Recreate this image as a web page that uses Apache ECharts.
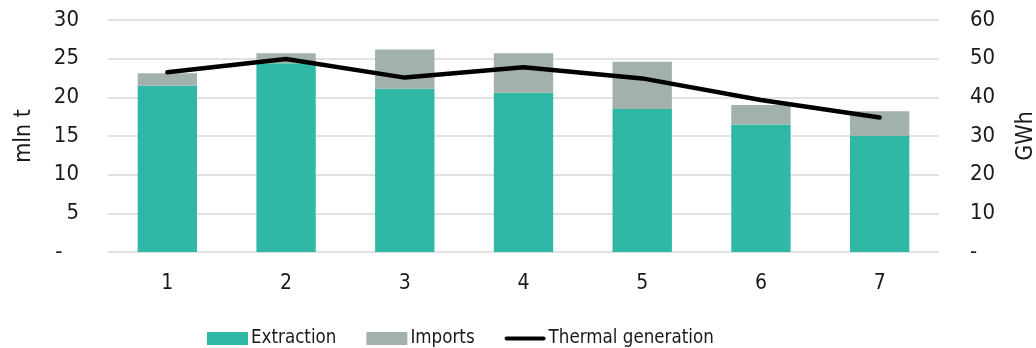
<!DOCTYPE html>
<html>
<head>
<meta charset="utf-8">
<script src="https://cdn.jsdelivr.net/npm/echarts@6/dist/echarts.min.js"></script>
<style>
  html, body { margin: 0; padding: 0; background: #fff; }
  #chart { width: 1036px; height: 348px; }
</style>
</head>
<body>
<div id="chart"></div>
<script>
// Categories and series values
const categories = ['1', '2', '3', '4', '5', '6', '7'];
const extraction = [21.5, 24.4, 21.1, 20.6, 18.5, 16.5, 15.0];   // mln t
const imports = [1.6, 1.3, 5.1, 5.1, 6.1, 2.5, 3.2];             // mln t
const thermalGeneration = [46.5, 49.9, 45.1, 47.8, 44.9, 39.3, 34.8]; // GWh

const FONT = '"DejaVu Sans Condensed", "DejaVu Sans", sans-serif';
const TEXT = '#1a1a1a';

const chart = echarts.init(document.getElementById('chart'), null, { renderer: 'canvas' });

// Accounting-style zero: a dash, padded on the left axis so it sits under the digits
const dashZeroLeft = (v) => (v === 0 ? '-\u2007\u2009' : String(v));
const dashZeroRight = (v) => (v === 0 ? '-' : String(v));

chart.setOption({
  animation: false,
  textStyle: { fontFamily: FONT, color: TEXT },
  grid: { left: 108, right: 97, top: 20, bottom: 96, outerBoundsMode: 'none' },
  legend: {
    left: 202,
    bottom: -5,
    itemGap: 30,
    itemWidth: 41,
    itemHeight: 13,
    textStyle: { fontFamily: FONT, fontSize: 18.6, color: TEXT, padding: [0, 0, 0, -2] },
    data: [
      { name: 'Extraction', icon: 'rect' },
      { name: 'Imports', icon: 'rect' },
      { name: 'Thermal generation', icon: 'path://M2,0 L39,0 A2,2 0 0 1 39,4 L2,4 A2,2 0 0 1 2,0 Z' }
    ]
  },
  xAxis: {
    type: 'category',
    data: categories,
    axisLine: { show: false },
    axisTick: { show: false },
    axisLabel: { fontFamily: FONT, fontSize: 21, color: TEXT, margin: 21 }
  },
  yAxis: [
    {
      type: 'value',
      min: 0, max: 30, interval: 5,
      name: 'mln t',
      nameLocation: 'middle',
      nameRotate: 90,
      nameGap: 72,
      nameTextStyle: { fontFamily: FONT, fontSize: 23, color: TEXT },
      axisLine: { show: false },
      axisTick: { show: false },
      axisLabel: { fontFamily: FONT, fontSize: 22, color: TEXT, margin: 29, formatter: dashZeroLeft },
      splitLine: { lineStyle: { color: '#d9d9d9', width: 1.5 } }
    },
    {
      type: 'value',
      min: 0, max: 60, interval: 10,
      name: 'GWh',
      nameLocation: 'middle',
      nameRotate: 90,
      nameGap: 76,
      nameTextStyle: { fontFamily: FONT, fontSize: 23, color: TEXT },
      axisLine: { show: false },
      axisTick: { show: false },
      axisLabel: { fontFamily: FONT, fontSize: 22, color: TEXT, margin: 31, formatter: dashZeroRight },
      splitLine: { show: false }
    }
  ],
  series: [
    {
      name: 'Extraction',
      type: 'bar',
      stack: 'coal',
      barWidth: '50%',
      data: extraction,
      itemStyle: { color: '#2fb8a6' }
    },
    {
      name: 'Imports',
      type: 'bar',
      stack: 'coal',
      barWidth: '50%',
      data: imports,
      itemStyle: { color: '#a2b1ab' }
    },
    {
      name: 'Thermal generation',
      type: 'line',
      yAxisIndex: 1,
      data: thermalGeneration,
      symbol: 'none',
      lineStyle: { color: '#000', width: 4.5, cap: 'round', join: 'round' },
      itemStyle: { color: '#000' }
    }
  ]
});
</script>
</body>
</html>
